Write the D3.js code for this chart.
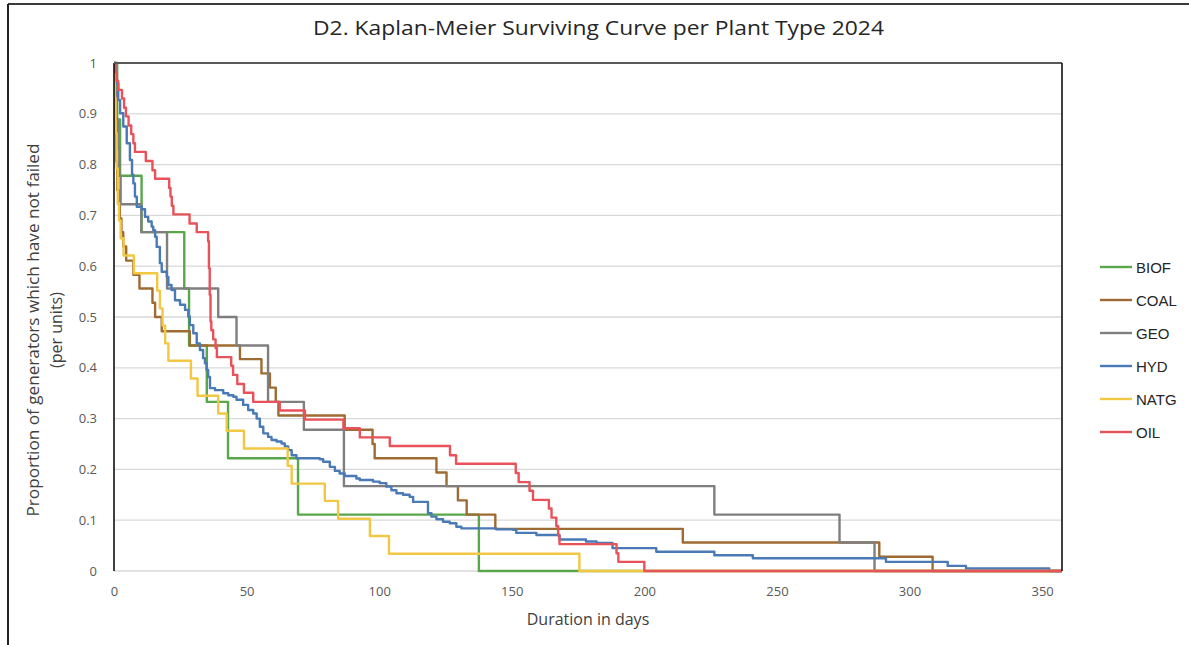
<!DOCTYPE html>
<html lang="en">
<head>
<meta charset="UTF-8">
<title>Kaplan-Meier Surviving Curve per Plant Type 2024</title>
<script src="https://d3js.org/d3.v7.min.js"></script>
<style>
  body { margin: 0; background: #fff; }
  svg { display: block; font-family: "Open Sans", "Noto Sans", sans-serif; }
</style>
</head>
<body>
<div id="chart"></div>
<script>
// step points [day, proportion surviving]
var biofSteps = [[0,1],[1.2,0.889],[2.3,0.778],[10.4,0.667],[26.5,0.556],[28.3,0.444],[35,0.333],[43,0.222],[69.4,0.111],[137.6,0]];
var coalSteps = [[0,1],[0.3,0.917],[0.5,0.861],[0.8,0.806],[1.2,0.75],[1.7,0.722],[2.2,0.694],[2.8,0.667],[3.5,0.639],[4.6,0.611],[7.3,0.583],[9.6,0.556],[14.5,0.528],[15.5,0.5],[18,0.472],[28.6,0.444],[47.5,0.417],[55.6,0.389],[58.8,0.361],[61,0.333],[62,0.306],[87,0.278],[97.5,0.25],[98.3,0.222],[121.6,0.194],[125.4,0.167],[129.7,0.139],[133,0.111],[143.8,0.083],[214.5,0.056],[288.6,0.028],[308.7,0]];
var geoSteps = [[0,1],[0.5,0.944],[1,0.889],[1.5,0.833],[2,0.778],[2.5,0.722],[10.3,0.667],[20,0.556],[39.3,0.5],[46.2,0.444],[58.1,0.333],[71.6,0.278],[86.7,0.167],[226.4,0.111],[273.6,0.056],[286.8,0]];
var hydSteps = [[0,1],[0.5,0.98],[1,0.96],[1.6,0.927],[2.3,0.901],[3.5,0.875],[4.8,0.842],[6,0.809],[6.8,0.78],[7.3,0.763],[7.9,0.737],[8.6,0.717],[10.4,0.712],[11.7,0.697],[12.9,0.688],[14.2,0.678],[14.8,0.671],[15.5,0.658],[16.1,0.638],[17.3,0.606],[18,0.589],[19.9,0.579],[20.5,0.563],[21.7,0.553],[23,0.533],[24.9,0.524],[26.8,0.514],[28,0.501],[28.6,0.484],[29.9,0.468],[31.2,0.448],[32.4,0.435],[33.6,0.419],[34.3,0.409],[34.9,0.396],[35.5,0.382],[36.2,0.36],[38.1,0.356],[41.2,0.35],[43.1,0.346],[45,0.343],[46.2,0.337],[48.7,0.327],[50.6,0.317],[52.5,0.31],[53.8,0.3],[55,0.284],[56.3,0.271],[58.1,0.264],[59.4,0.258],[61.3,0.255],[63.2,0.251],[64.4,0.245],[65.7,0.238],[67,0.228],[68.8,0.222],[77.6,0.22],[78.9,0.215],[81.4,0.205],[83.3,0.197],[85.1,0.192],[87,0.187],[91.4,0.182],[92.7,0.179],[97.7,0.176],[100.2,0.173],[102.7,0.166],[104.6,0.159],[106.5,0.153],[109,0.15],[111.5,0.146],[112.8,0.136],[118.4,0.114],[119.7,0.107],[121.6,0.102],[124.1,0.097],[126.6,0.094],[129.1,0.087],[131,0.084],[144.2,0.082],[150.5,0.081],[151.7,0.075],[159.3,0.071],[168,0.062],[178,0.058],[182,0.055],[188,0.045],[204.5,0.038],[226.4,0.031],[240.9,0.025],[291.1,0.018],[314.4,0.01],[321.3,0.005],[352.7,0]];
var natgSteps = [[0,1],[0.3,0.931],[0.6,0.862],[1,0.793],[1.4,0.724],[1.9,0.69],[2.5,0.655],[3.6,0.621],[7.5,0.586],[16.3,0.552],[17.3,0.517],[18.3,0.483],[19.3,0.448],[20.5,0.414],[29,0.379],[31.5,0.345],[39.3,0.31],[42.5,0.276],[49,0.241],[65.5,0.207],[67,0.172],[79.5,0.138],[84.5,0.103],[96.5,0.069],[103.7,0.034],[175.5,0]];
var oilSteps = [[0,1],[0.5,0.982],[1,0.965],[1.6,0.947],[3,0.93],[3.8,0.912],[4.5,0.895],[5.5,0.877],[6.5,0.86],[7.3,0.842],[7.9,0.825],[12,0.807],[14.5,0.789],[15.5,0.772],[20.8,0.754],[21.3,0.737],[21.8,0.719],[22.4,0.702],[28.5,0.684],[31.2,0.667],[35.5,0.649],[35.8,0.596],[36.1,0.544],[36.4,0.491],[36.7,0.474],[37.4,0.456],[38.3,0.439],[38.8,0.421],[44.2,0.404],[44.9,0.386],[46.5,0.368],[49,0.351],[52.5,0.333],[62.5,0.316],[72,0.298],[86.5,0.281],[92.7,0.263],[104,0.246],[126.7,0.228],[129,0.211],[151.5,0.193],[152.6,0.175],[156.7,0.158],[158,0.14],[164,0.123],[165,0.105],[166.8,0.088],[167.5,0.07],[168,0.053],[189.5,0.035],[190.2,0.018],[200,0]];

var seriesNames = ["BIOF", "COAL", "GEO", "HYD", "NATG", "OIL"];
var seriesSteps = [biofSteps, coalSteps, geoSteps, hydSteps, natgSteps, oilSteps];
var seriesColors = ["#5aa64a", "#9e6b33", "#7f7f7f", "#4a7ab5", "#f2c744", "#e9525a"];

var yTicks = [0, 0.1, 0.2, 0.3, 0.4, 0.5, 0.6, 0.7, 0.8, 0.9, 1];
var xTicks = [0, 50, 100, 150, 200, 250, 300, 350];
var xMax = 357.5;

var W = 1189, H = 645;
var plotL = 114, plotR = 1062, plotT = 63, plotB = 571;

var svg = d3.select("#chart").append("svg")
    .attr("width", W)
    .attr("height", H);

// outer frame (top and left edges only visible)
svg.append("line").attr("x1", 8).attr("x2", W).attr("y1", 4).attr("y2", 4)
    .attr("stroke", "#3a3a3a").attr("stroke-width", 2);
svg.append("line").attr("x1", 8).attr("x2", 8).attr("y1", 4).attr("y2", H)
    .attr("stroke", "#222").attr("stroke-width", 2);

var x = d3.scaleLinear().domain([0, xMax]).range([plotL, plotR]);
var y = d3.scaleLinear().domain([0, 1]).range([plotB, plotT]);

// title
svg.append("text")
    .attr("x", 598.5)
    .attr("y", 35)
    .attr("text-anchor", "middle")
    .attr("font-size", "20px")
    .attr("fill", "#262626")
    .attr("textLength", 571)
    .attr("lengthAdjust", "spacingAndGlyphs")
    .text("D2. Kaplan-Meier Surviving Curve per Plant Type 2024");

// gridlines
svg.append("g")
  .selectAll("line")
  .data(yTicks.filter(function(d) { return d < 1; }))
  .enter().append("line")
    .attr("x1", plotL).attr("x2", plotR)
    .attr("y1", function(d) { return y(d); })
    .attr("y2", function(d) { return y(d); })
    .attr("stroke", "#d9d9d9")
    .attr("stroke-width", 1.3);

// y axis labels
var yAxis = svg.append("g")
    .attr("transform", "translate(" + (plotL - 14) + ",0)")
    .call(d3.axisLeft(y).tickValues(yTicks).tickSize(0).tickFormat(function(d) { return String(+d.toFixed(1)); }));
yAxis.select(".domain").remove();
yAxis.selectAll("text")
    .attr("font-size", "13px")
    .attr("font-family", "'Open Sans', sans-serif")
    .attr("fill", "#595959");

// x axis labels
var xAxis = svg.append("g")
    .attr("transform", "translate(0," + (plotB + 13) + ")")
    .call(d3.axisBottom(x).tickValues(xTicks).tickSize(0).tickFormat(d3.format("d")));
xAxis.select(".domain").remove();
xAxis.selectAll("text")
    .attr("font-size", "13px")
    .attr("font-family", "'Open Sans', sans-serif")
    .attr("fill", "#595959");

// curves
svg.append("clipPath").attr("id", "plotclip")
  .append("rect")
    .attr("x", plotL).attr("y", plotT - 3)
    .attr("width", plotR - plotL).attr("height", plotB - plotT + 6);

var line = d3.line()
    .x(function(d) { return x(d[0]); })
    .y(function(d) { return y(d[1]); })
    .curve(d3.curveStepAfter);

var curves = svg.append("g").attr("clip-path", "url(#plotclip)");
seriesSteps.forEach(function(steps, i) {
  var pts = steps.concat([[xMax, steps[steps.length - 1][1]]]);
  curves.append("path")
    .datum(pts)
    .attr("d", line)
    .attr("fill", "none")
    .attr("stroke", seriesColors[i])
    .attr("stroke-width", 2.4)
    .attr("stroke-linejoin", "round")
    .attr("stroke-linecap", "round");
});

// plot frame: left, top, right
svg.append("line").attr("x1", plotL).attr("x2", plotL).attr("y1", plotT).attr("y2", plotB)
    .attr("stroke", "#000").attr("stroke-width", 1.5);
svg.append("line").attr("x1", plotL).attr("x2", plotR).attr("y1", plotT).attr("y2", plotT)
    .attr("stroke", "#595959").attr("stroke-width", 2);
svg.append("line").attr("x1", plotR).attr("x2", plotR).attr("y1", plotT).attr("y2", plotB)
    .attr("stroke", "#000").attr("stroke-width", 1.5);

// axis titles
svg.append("text")
    .attr("x", 588)
    .attr("y", 625)
    .attr("text-anchor", "middle")
    .attr("font-size", "16px")
    .attr("fill", "#404040")
    .text("Duration in days");

var yTitle = svg.append("text")
    .attr("transform", "translate(0,330) rotate(-90)")
    .attr("text-anchor", "middle")
    .attr("font-size", "16px")
    .attr("fill", "#404040");
yTitle.append("tspan").attr("x", 0).attr("y", 39)
    .attr("textLength", 373).attr("lengthAdjust", "spacingAndGlyphs")
    .text("Proportion of generators which have not failed");
yTitle.append("tspan").attr("x", 0).attr("y", 62)
    .text("(per units)");

// legend
var legend = svg.append("g").attr("transform", "translate(1100,267)");
seriesNames.forEach(function(name, i) {
  var g = legend.append("g").attr("transform", "translate(0," + (i * 33) + ")");
  g.append("line").attr("x1", 0).attr("x2", 32).attr("y1", 0).attr("y2", 0)
    .attr("stroke", seriesColors[i]).attr("stroke-width", 2.4);
  g.append("text").attr("x", 36).attr("y", 5.5)
    .attr("font-size", "15px")
    .attr("font-family", "'Liberation Sans', Arial, sans-serif")
    .attr("fill", "#262626")
    .text(name);
});
</script>
</body>
</html>
